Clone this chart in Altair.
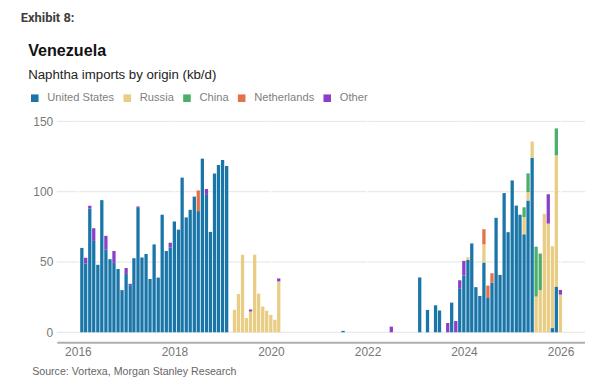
import altair as alt
import pandas as pd

# ---- data (kb/d), monthly Jan 2016 .. Dec 2025 ----
months = pd.date_range("2016-01-01", periods=120, freq="MS").strftime("%Y-%m").tolist()

united_states = [
    60, 49, 88, 65, 48, 94, 59, 52, 49.4, 45, 30, 41.5,            # 2016
    33.5, 52.7, 88.5, 53.2, 55.7, 37.9, 62.5, 38.9, 83.6, 57.8, 60.4, 78.8,  # 2017
    73, 110, 81.7, 87.1, 96.5, 86.2, 123.5, 97.7, 71.4, 112.9, 119, 122.5,  # 2018
    118.3, 0, 0, 0, 0, 0, 0, 0, 0, 0, 0, 0,                          # 2019
    0, 0, 0, 0, 0, 0, 0, 0, 0, 0, 0, 0,                              # 2020
    0, 0, 0, 0, 0, 1, 0, 0, 0, 0, 0, 0,                              # 2021
    0, 0, 0, 0, 0, 0, 0, 0, 0, 0, 0, 0,                              # 2022
    39, 0, 15.9, 0, 19.2, 15.5, 0, 0, 21.1, 0, 30.9, 40.3,           # 2023
    51.5, 63.2, 32.1, 25.8, 49.6, 24.4, 35.2, 81.4, 40.8, 99, 71.2, 108,  # 2024
    90.1, 83.6, 69.7, 93.7, 124, 0, 0, 0, 0, 3, 32.5, 0,             # 2025
]
russia = [
    0] * 36 + [
    0, 0, 16, 27.2, 55.2, 10.1, 14.8, 55.2, 27.5, 18.3, 15.3, 12.4,  # 2019
    8.9, 36.2, 0, 0, 0, 0, 0, 0, 0, 0, 0, 0,                         # 2020
] + [0] * 36 + [
    1.9, 0, 0, 0, 12.9, 0, 0, 0, 0, 0, 0, 0,                         # 2024
    0, 0, 12.2, 6, 11.7, 25.4, 29.9, 84.3, 77.3, 58.2, 93.4, 26.8,   # 2025
]
china = [0] * 108 + [
    0, 0, 7, 13.3, 0, 35.5, 26.1, 0, 0, 0, 19.1, 0,                  # 2025
]
netherlands = [0] * 120
netherlands[29] = 14.7     # Jun 2018
netherlands[100] = 10.8    # May 2024
netherlands[101] = 8.8     # Jun 2024
netherlands[102] = 6.8     # Jul 2024
other = [
    0, 4, 2, 9, 0, 0, 9.6, 0, 8.4, 0, 0, 4.2,                        # 2016
    1, 0, 1, 0, 0, 0, 0, 0, 0, 0, 3.3, 0,                            # 2017
    0, 0, 0, 0, 0, 0, 0, 4.2, 0, 0, 0, 0,                            # 2018
    0, 0, 0, 0, 0, 0, 1.4, 0, 0, 0, 0, 0,                            # 2019
    0, 2.1, 0, 0, 0, 0, 0, 0, 0, 0, 0, 0,                            # 2020
    0, 0, 0, 0, 0, 0, 0, 0, 0, 0, 0, 0,                              # 2021
    0, 0, 0, 0, 0, 4, 0, 0, 0, 0, 0, 0,                              # 2022
    0, 0, 0, 0, 0, 0, 0, 6.6, 0, 8, 6.1, 10.5,                       # 2023
    0, 0, 0, 0, 0, 0, 0, 0, 0, 0, 0, 0,                              # 2024
    0, 0, 0, 0, 0, 0, 0, 0, 20.9, 0, 0, 3.3,                         # 2025
]

series_names = ["United States", "Russia", "China", "Netherlands", "Other"]
series_colors = ["#1a76a9", "#e9cd84", "#4cae6a", "#e3714a", "#8b3fc9"]
y_ticks = [0, 50, 100, 150]
x_tick_years = [2016, 2018, 2020, 2022, 2024, 2026]

# ---- build table ----
wide = pd.DataFrame({
    "month": months,
    "United States": united_states,
    "Russia": russia,
    "China": china,
    "Netherlands": netherlands,
    "Other": other,
})
wide["date"] = (pd.to_datetime(wide["month"]) + pd.offsets.MonthEnd(0)).dt.strftime("%Y-%m-%d")
long = wide.melt(id_vars=["month", "date"], value_vars=series_names,
                 var_name="origin", value_name="kbd")
long = long[long["kbd"] > 0].copy()
long["rank"] = long["origin"].map({n: i for i, n in enumerate(series_names)})

FONT = "Liberation Sans"

xscale = alt.Scale(type="utc", padding=0, nice=False,
                   domain=[alt.DateTime(year=2015, month=7, date=25, utc=True),
                           alt.DateTime(year=2026, month=7, date=5, utc=True)])
yscale = alt.Scale(domain=[0, 150], nice=False)

x_axis = alt.Axis(values=[alt.DateTime(year=y, month=1, date=1, utc=True) for y in x_tick_years],
                  format="%Y", formatType="utc", title=None, grid=False, ticks=False,
                  domainColor="#b0b0b0", domainWidth=2, offset=10, labelPadding=4,
                  labelFontSize=12, labelColor="#777777", labelFont=FONT)
y_axis = alt.Axis(values=y_ticks, title=None, grid=False, ticks=False, domain=False,
                  labelPadding=4, labelFontSize=12, labelColor="#777777", labelFont=FONT)

hgrid = alt.Chart(pd.DataFrame({"kbd": y_ticks})).mark_rule(
    color="#e4e4e4", strokeWidth=1
).encode(y=alt.Y("kbd:Q", scale=yscale, axis=y_axis))

vgrid = alt.Chart(pd.DataFrame({"date": [f"{y}-01-01" for y in x_tick_years]})).mark_rule(
    color="#ffffff", strokeWidth=1.2
).encode(x=alt.X("date:T", scale=xscale, axis=x_axis))

bars = alt.Chart(long).mark_bar(size=3.3).encode(
    x=alt.X("date:T", scale=xscale, axis=x_axis),
    y=alt.Y("kbd:Q", stack="zero", scale=yscale, axis=y_axis),
    color=alt.Color("origin:N", scale=alt.Scale(domain=series_names, range=series_colors),
                    legend=alt.Legend(orient="none", legendX=-27.7, legendY=-29,
                                      direction="horizontal", title=None,
                                      symbolType="square", symbolSize=58, symbolStrokeWidth=0,
                                      labelFontSize=11.2, labelColor="#808080", labelFont=FONT,
                                      labelOffset=7, columnPadding=7, padding=0)),
    order=alt.Order("rank:Q", sort="ascending"),
)

def label(text, x, y, size, color, weight="normal", font=FONT):
    return alt.Chart(pd.DataFrame({"t": [text]})).mark_text(
        align="left", baseline="alphabetic", fontSize=size, color=color,
        fontWeight=weight, font=font
    ).encode(x=alt.value(x), y=alt.value(y), text="t:N")

texts = [
    label("Exhibit 8:", -36.3, -100, 13, "#404040", "bold", "Roboto"),
    label("Venezuela", -28.7, -66, 16.2, "#111111", "bold"),
    label("Naphtha imports by origin (kb/d)", -28.7, -42.7, 13.3, "#222222"),
    label("Source: Vortexa, Morgan Stanley Research", -24.7, 255, 10.7, "#666666"),
]

chart = alt.layer(hgrid, vgrid, bars, *texts).properties(
    width=531, height=212,
    autosize=alt.AutoSizeParams(type="none"),
    padding={"left": 49, "top": 113, "right": 0, "bottom": 48},
    background="white",
).configure_view(stroke=None)

chart.save("out.html", embed_options={"renderer": "svg", "actions": False})
